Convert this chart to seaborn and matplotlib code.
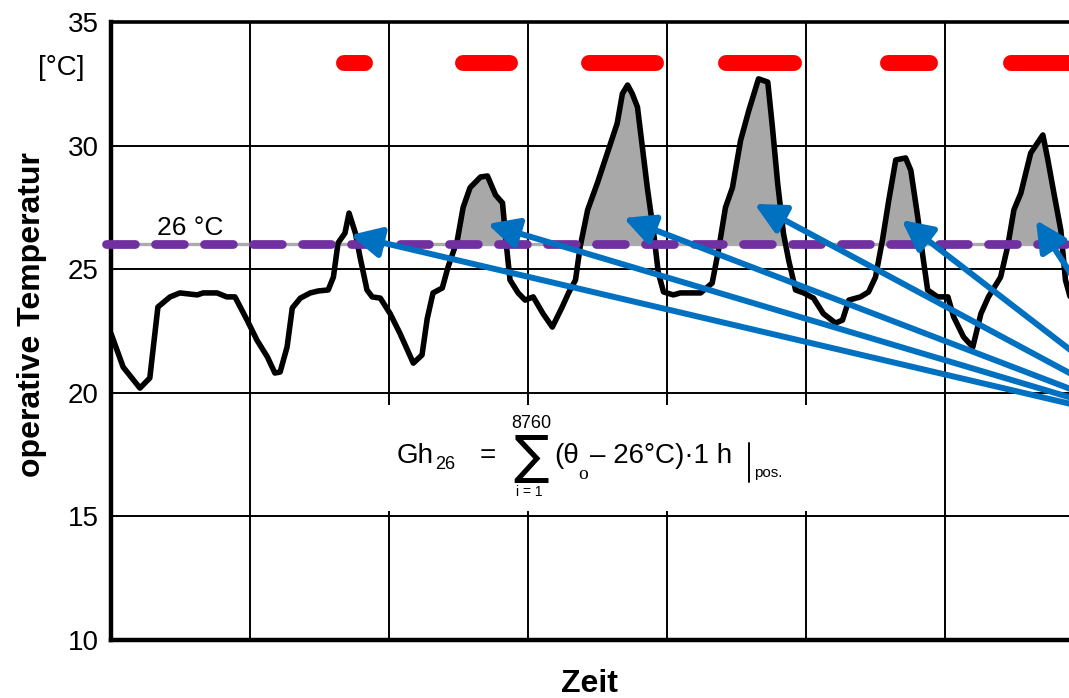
import matplotlib
matplotlib.use("Agg")
import matplotlib.pyplot as plt
import seaborn as sns
from matplotlib.patches import Rectangle
from matplotlib.lines import Line2D

# Operative temperature over one week (time in hours, temperature in °C)
hours = [0, 2.1, 5.0, 6.7, 8.1, 10.2, 11.9, 14.9, 15.9, 18.3,
         20.0, 21.4, 23.5, 25.2, 27.0, 28.3, 29.2, 30.4, 31.3, 32.7,
         34.4, 35.8, 37.5, 38.4, 39.2, 40.4, 41.1, 42.2, 43.0, 44.2,
         45.1, 46.5, 48.2, 49.9, 52.2, 53.7, 54.6, 55.6, 57.2, 58.2,
         59.8, 60.8, 62.0, 63.8, 65.0, 66.4, 67.6, 68.3, 68.9, 70.3,
         71.5, 72.9, 74.6, 76.2, 77.9, 79.0, 80.2, 81.0, 82.3, 84.0,
         85.7, 87.4, 88.3, 89.2, 90.0, 90.9, 92.6, 93.7, 94.5, 95.4,
         97.1, 98.3, 101.8, 103.8, 104.9, 106.1, 107.3, 108.7, 110.1, 111.8,
         113.4, 114.2, 115.1, 116.1, 117.0, 118.2, 119.6, 121.3, 123.0, 125.1,
         126.3, 127.4, 129.4, 130.8, 132.0, 133.2, 134.3, 135.5, 137.2, 138.1,
         139.3, 140.1, 141.0, 142.7, 144.5, 145.5, 147.2, 148.8, 150.2, 151.5,
         153.6, 154.8, 155.9, 157.1, 158.8, 160.9, 161.7, 162.8, 164.0, 164.8,
         165.7, 167.4]
temps = [22.4, 21.04, 20.19, 20.6, 23.47, 23.88, 24.04, 23.96, 24.04, 24.04,
         23.88, 23.88, 22.94, 22.13, 21.45, 20.8, 20.84, 21.85, 23.43, 23.83,
         24.04, 24.12, 24.16, 24.68, 26.06, 26.46, 27.27, 26.46, 25.49, 24.16,
         23.88, 23.83, 23.2, 22.4, 21.2, 21.53, 23.0, 24.04, 24.24, 25.09,
         26.18, 27.5, 28.3, 28.73, 28.77, 28.0, 27.68, 25.9, 24.56, 24.04,
         23.75, 23.88, 23.2, 22.66, 23.47, 24.04, 24.56, 25.9, 27.4, 28.5,
         29.7, 30.9, 32.1, 32.45, 32.1, 31.56, 28.3, 26.46, 24.85, 24.08,
         23.96, 24.04, 24.04, 24.44, 25.78, 27.5, 28.3, 30.2, 31.4, 32.7,
         32.57, 30.75, 28.49, 26.46, 25.37, 24.16, 24.04, 23.83, 23.2, 22.82,
         22.94, 23.75, 23.88, 24.08, 24.68, 26.18, 27.8, 29.42, 29.5, 29.0,
         27.1, 25.65, 24.16, 23.88, 23.88, 23.07, 22.26, 21.85, 23.2, 23.88,
         24.68, 25.9, 27.4, 28.08, 29.7, 30.43, 29.5, 28.08, 26.58, 24.56,
         23.8, 23.4]

threshold = 26.0          # limit temperature, °C
shade_from_hour = 48      # excess areas shaded from the third day on

# Red bars marking the intervals in the upper band (hours)
bar_start = [40.2, 60.7, 82.5, 106.2, 134.2, 155.4]
bar_end = [43.8, 68.9, 94.1, 117.9, 141.4, 172.0]
bar_level = 33.35

# Arrows pointing into the excess areas
arrow_tip_hour = [41.3, 65.0, 88.5, 111.1, 136.5, 159.7]
arrow_tip_temp = [26.38, 26.83, 27.07, 27.64, 26.99, 26.99]
arrow_origin = (183.0, 18.6)

y_ticks = [10, 15, 20, 25, 30, 35]
day_ticks = [0, 24, 48, 72, 96, 120, 144, 168]

sns.set_style("white")
plt.rcParams["font.family"] = ["Liberation Sans", "DejaVu Sans"]
for key in ("text.color", "axes.labelcolor", "xtick.color", "ytick.color"):
    plt.rcParams[key] = "black"

W, H = 1069, 698
fig = plt.figure(figsize=(W / 100, H / 100), dpi=100)
ax = fig.add_axes([111 / W, 58 / H, 973 / W, 618 / H])


def fig_xy(x, y):
    return x / W, 1 - y / H


# shaded excess above the limit
mask = [(t > threshold) and (h >= shade_from_hour) for h, t in zip(hours, temps)]
ax.fill_between(hours, threshold, temps, where=mask, interpolate=True,
                color="#a8a8a8", linewidth=0, zorder=2)

# limit line: thin grey base with a purple dashed overlay
ax.plot([-0.5, 170], [threshold, threshold], color="#ababab", lw=2.4,
        zorder=3, clip_on=False)
sns.lineplot(x=hours, y=temps, ax=ax, color="black", linewidth=4.0,
             estimator=None, sort=False, zorder=4, solid_joinstyle="round")
ax.plot([-0.8, 170], [threshold, threshold], color="#7030A0", lw=6.3,
        dashes=(3.3, 2.3), dash_capstyle="round", zorder=5, clip_on=False)
ax.text(13.65, 26.67, "26 °C", ha="center", va="center", fontsize=19, zorder=6)

# red interval bars
for s, e in zip(bar_start, bar_end):
    ax.plot([s, e], [bar_level, bar_level], color="#ff0000", lw=11.5,
            solid_capstyle="round", zorder=6)

# arrows
for h, t in zip(arrow_tip_hour, arrow_tip_temp):
    ax.annotate("", xy=(h, t), xytext=arrow_origin, annotation_clip=False,
                arrowprops=dict(arrowstyle="-|>,head_length=0.42,head_width=0.21",
                                color="#0070C0", lw=4.3, mutation_scale=44,
                                shrinkA=0, shrinkB=0), zorder=7)

# white panel behind the formula
ax.add_patch(Rectangle((40, 15.22), 90, 4.3, facecolor="white",
                       edgecolor="none", zorder=1))

ax.set_xlim(0, 168)
ax.set_ylim(10, 35)
ax.set_xticks(day_ticks)
ax.set_yticks(y_ticks)
ax.grid(True, color="black", linewidth=1.4)
ax.set_axisbelow(True)
ax.tick_params(axis="both", length=0, labelbottom=False, labelsize=20)
ax.tick_params(axis="y", pad=9)
for side in ("left", "bottom"):
    ax.spines[side].set_linewidth(3.2)
    ax.spines[side].set_color("black")
ax.spines["top"].set_linewidth(2.6)
ax.spines["top"].set_color("black")
ax.spines["right"].set_visible(False)

ax.set_ylabel("operative Temperatur", fontsize=23, fontweight="bold")
ax.yaxis.set_label_coords(-0.066, 0.526)
ax.set_xlabel("Zeit", fontsize=23, fontweight="bold")
ax.xaxis.set_label_coords(0.492, -0.047)
fig.text(*fig_xy(85, 68), "[°C]", ha="right", va="center", fontsize=20)

# formula for the degree hours above 26 °C
fig.text(*fig_xy(397, 463), "Gh", ha="left", va="baseline", fontsize=20)
fig.text(*fig_xy(435, 469), "26", ha="left", va="baseline", fontsize=13)
fig.text(*fig_xy(488, 463), "=", ha="center", va="baseline", fontsize=20)
fig.text(*fig_xy(531, 458), "∑", ha="center", va="center", fontsize=38,
         family=["DejaVu Sans"])
fig.text(*fig_xy(531, 423), "8760", ha="center", va="center", fontsize=13)
fig.text(*fig_xy(529, 492), "i = 1", ha="center", va="center", fontsize=10)
fig.text(*fig_xy(554, 463), "(θ", ha="left", va="baseline", fontsize=20)
fig.text(*fig_xy(578, 479), "o", ha="left", va="baseline", fontsize=14,
         family=["Liberation Serif"])
fig.text(*fig_xy(590, 463), "– 26°C)·1 h", ha="left", va="baseline", fontsize=20)
fig.add_artist(Line2D([749 / W, 749 / W], [1 - 443 / H, 1 - 482 / H],
                      color="black", lw=1.4))
fig.text(*fig_xy(754, 477), "pos.", ha="left", va="baseline", fontsize=11)

fig.savefig("out.png", dpi=100)
